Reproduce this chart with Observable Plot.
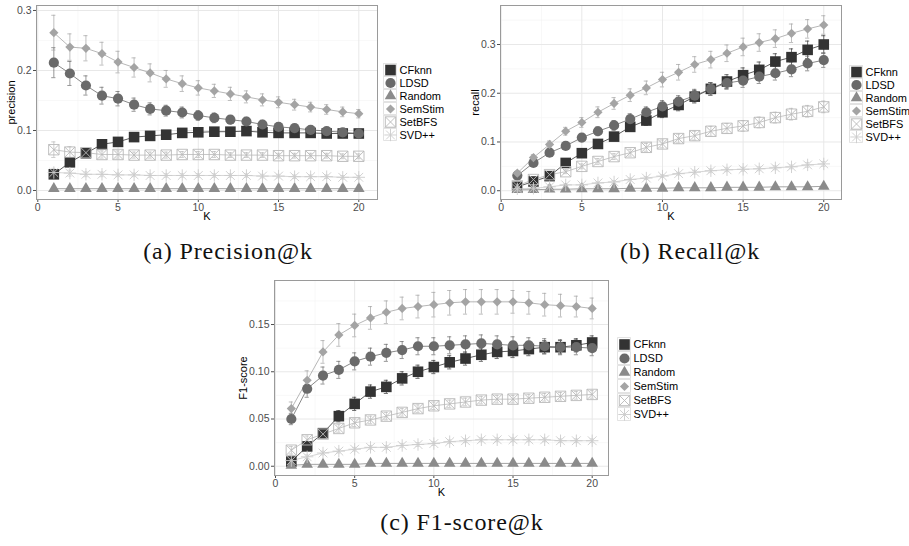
<!DOCTYPE html>
<html><head><meta charset="utf-8">
<script src="https://cdn.jsdelivr.net/npm/d3@7"></script>
<script src="https://cdn.jsdelivr.net/npm/@observablehq/plot@0.6"></script>
<style>
body{margin:0;background:#fff;}
#root{position:relative;width:909px;height:546px;overflow:hidden;background:#fff;}
.box{position:absolute;}
.cap{position:absolute;font-family:"Liberation Serif","Times New Roman",serif;font-size:24px;line-height:1;letter-spacing:0.9px;color:#111;white-space:nowrap;transform:translateX(-50%);}
</style></head><body><div id="root"></div>
<script>
// ---------------- data ----------------
const K = [1,2,3,4,5,6,7,8,9,10,11,12,13,14,15,16,17,18,19,20];
const seriesNames = ["CFknn","LDSD","Random","SemStim","SetBFS","SVD++"];
const xTicks = [0,5,10,15,20];
const xMinorTicks = [2.5,7.5,12.5,17.5];

// Precision@k
const precisionCFknn   = [0.027,0.047,0.062,0.077,0.081,0.089,0.091,0.093,0.096,0.097,0.098,0.098,0.099,0.097,0.096,0.096,0.096,0.095,0.095,0.095];
const precisionLDSD    = [0.213,0.195,0.175,0.158,0.153,0.143,0.136,0.133,0.130,0.125,0.121,0.118,0.115,0.110,0.106,0.104,0.101,0.099,0.097,0.095];
const precisionRandom  = [0.003,0.003,0.003,0.003,0.003,0.003,0.003,0.003,0.003,0.003,0.003,0.003,0.003,0.003,0.003,0.003,0.003,0.003,0.003,0.003];
const precisionSemStim = [0.263,0.239,0.237,0.228,0.214,0.205,0.196,0.186,0.178,0.171,0.166,0.161,0.156,0.151,0.147,0.143,0.139,0.135,0.131,0.128];
const precisionSetBFS  = [0.068,0.064,0.063,0.060,0.060,0.059,0.059,0.059,0.060,0.060,0.060,0.059,0.059,0.059,0.058,0.058,0.058,0.058,0.057,0.057];
const precisionSVD     = [0.030,0.029,0.027,0.027,0.026,0.026,0.025,0.025,0.025,0.025,0.025,0.025,0.025,0.024,0.024,0.023,0.023,0.023,0.022,0.022];
const precisionErrCFknn   = [0.005,0.005,0.005,0.005,0.005,0.005,0.005,0.005,0.005,0.005,0.005,0.005,0.005,0.005,0.005,0.005,0.005,0.005,0.005,0.005];
const precisionErrLDSD    = [0.025,0.020,0.016,0.014,0.012,0.011,0.010,0.009,0.009,0.008,0.008,0.007,0.007,0.007,0.006,0.006,0.006,0.005,0.005,0.005];
const precisionErrRandom  = [0.001,0.001,0.001,0.001,0.001,0.001,0.001,0.001,0.001,0.001,0.001,0.001,0.001,0.001,0.001,0.001,0.001,0.001,0.001,0.001];
const precisionErrSemStim = [0.029,0.022,0.021,0.019,0.018,0.016,0.015,0.014,0.013,0.012,0.011,0.011,0.010,0.010,0.009,0.009,0.008,0.008,0.008,0.007];
const precisionErrSetBFS  = [0.013,0.009,0.007,0.006,0.006,0.005,0.005,0.005,0.005,0.005,0.005,0.004,0.004,0.004,0.004,0.004,0.004,0.004,0.004,0.004];
const precisionErrSVD     = [0.007,0.005,0.004,0.004,0.003,0.003,0.003,0.003,0.003,0.003,0.003,0.003,0.003,0.003,0.003,0.003,0.003,0.003,0.003,0.003];

// Recall@k
const recallCFknn   = [0.008,0.019,0.030,0.057,0.077,0.096,0.111,0.131,0.144,0.161,0.176,0.193,0.209,0.224,0.237,0.248,0.265,0.274,0.289,0.300];
const recallLDSD    = [0.031,0.057,0.078,0.092,0.109,0.122,0.134,0.147,0.161,0.173,0.183,0.195,0.209,0.221,0.226,0.234,0.241,0.249,0.261,0.268];
const recallRandom  = [0.002,0.002,0.003,0.003,0.004,0.004,0.004,0.005,0.005,0.005,0.006,0.006,0.006,0.007,0.007,0.007,0.008,0.008,0.008,0.009];
const recallSemStim = [0.036,0.068,0.095,0.122,0.140,0.161,0.179,0.196,0.211,0.228,0.243,0.259,0.269,0.282,0.295,0.304,0.312,0.323,0.332,0.340];
const recallSetBFS  = [0.010,0.023,0.033,0.039,0.050,0.060,0.070,0.078,0.089,0.096,0.107,0.113,0.122,0.128,0.133,0.140,0.150,0.157,0.163,0.172];
const recallSVD     = [0.004,0.005,0.008,0.012,0.012,0.016,0.018,0.023,0.026,0.030,0.035,0.038,0.041,0.043,0.044,0.045,0.047,0.049,0.053,0.055];
const recallErrCFknn   = [0.002,0.003,0.004,0.005,0.006,0.007,0.008,0.009,0.010,0.011,0.012,0.013,0.013,0.014,0.015,0.016,0.016,0.017,0.018,0.018];
const recallErrLDSD    = [0.004,0.005,0.006,0.007,0.008,0.009,0.010,0.011,0.011,0.012,0.012,0.013,0.013,0.013,0.014,0.014,0.014,0.015,0.015,0.015];
const recallErrRandom  = [0.001,0.001,0.001,0.001,0.001,0.001,0.001,0.001,0.001,0.001,0.001,0.001,0.001,0.001,0.001,0.001,0.001,0.001,0.001,0.001];
const recallErrSemStim = [0.004,0.006,0.007,0.008,0.010,0.011,0.012,0.013,0.014,0.015,0.016,0.016,0.017,0.017,0.018,0.018,0.018,0.019,0.019,0.019];
const recallErrSetBFS  = [0.002,0.003,0.004,0.004,0.005,0.006,0.006,0.007,0.008,0.008,0.009,0.009,0.010,0.010,0.011,0.011,0.011,0.012,0.012,0.012];
const recallErrSVD     = [0.001,0.001,0.002,0.002,0.002,0.002,0.003,0.003,0.003,0.003,0.003,0.004,0.004,0.004,0.004,0.004,0.004,0.004,0.005,0.005];

// F1-score@k
const f1CFknn   = [0.005,0.021,0.035,0.053,0.066,0.079,0.084,0.093,0.100,0.105,0.110,0.114,0.118,0.121,0.122,0.124,0.126,0.126,0.128,0.131];
const f1LDSD    = [0.050,0.082,0.096,0.102,0.111,0.116,0.120,0.123,0.127,0.127,0.128,0.129,0.130,0.129,0.128,0.128,0.127,0.126,0.126,0.125];
const f1Random  = [0.001,0.002,0.002,0.002,0.002,0.003,0.003,0.003,0.003,0.003,0.003,0.003,0.003,0.003,0.003,0.003,0.003,0.003,0.003,0.003];
const f1SemStim = [0.061,0.091,0.121,0.139,0.149,0.157,0.163,0.167,0.169,0.171,0.173,0.174,0.174,0.174,0.174,0.173,0.171,0.170,0.169,0.167];
const f1SetBFS  = [0.017,0.028,0.034,0.040,0.046,0.049,0.053,0.057,0.061,0.064,0.066,0.068,0.070,0.071,0.071,0.072,0.073,0.074,0.075,0.076];
const f1SVD     = [0.006,0.010,0.014,0.016,0.018,0.020,0.020,0.022,0.023,0.024,0.026,0.027,0.028,0.028,0.028,0.028,0.028,0.027,0.027,0.027];
const f1ErrCFknn   = [0.003,0.004,0.004,0.006,0.007,0.007,0.007,0.007,0.007,0.007,0.007,0.007,0.007,0.007,0.007,0.007,0.007,0.007,0.007,0.007];
const f1ErrLDSD    = [0.006,0.009,0.009,0.009,0.009,0.009,0.009,0.009,0.009,0.009,0.009,0.009,0.009,0.009,0.009,0.008,0.008,0.008,0.008,0.008];
const f1ErrRandom  = [0.001,0.001,0.001,0.001,0.001,0.001,0.001,0.001,0.001,0.001,0.001,0.001,0.001,0.001,0.001,0.001,0.001,0.001,0.001,0.001];
const f1ErrSemStim = [0.007,0.010,0.012,0.012,0.012,0.012,0.012,0.012,0.012,0.013,0.013,0.013,0.013,0.013,0.012,0.012,0.012,0.012,0.011,0.011];
const f1ErrSetBFS  = [0.004,0.004,0.004,0.004,0.004,0.004,0.004,0.004,0.004,0.004,0.004,0.004,0.004,0.004,0.004,0.004,0.004,0.004,0.004,0.004];
const f1ErrSVD     = [0.002,0.002,0.002,0.002,0.002,0.002,0.002,0.002,0.002,0.002,0.002,0.002,0.002,0.002,0.002,0.002,0.002,0.002,0.002,0.002];

const precisionTicks = [0,0.1,0.2,0.3];
const recallTicks = [0,0.1,0.2,0.3];
const f1Ticks = [0,0.05,0.10,0.15];

// ---------------- styles ----------------
const colors = {"CFknn":"#333333","LDSD":"#6a6a6a","Random":"#8b8b8b","SemStim":"#a4a4a4","SetBFS":"#b9b9b9","SVD++":"#cccccc"};
const rad = r => Math.sqrt(r / Math.PI);
const symbols = {
  square:   {draw(c,s){const r=rad(s); c.rect(-r,-r,2*r,2*r);}},
  circle:   {draw(c,s){const r=rad(s); c.moveTo(r,0); c.arc(0,0,r,0,2*Math.PI);}},
  triangle: {draw(c,s){const r=rad(s), h=r*Math.sqrt(3); c.moveTo(0,-h*2/3); c.lineTo(r,h/3); c.lineTo(-r,h/3); c.closePath();}},
  diamond:  {draw(c,s){const r=rad(s); c.moveTo(0,-r); c.lineTo(r,0); c.lineTo(0,r); c.lineTo(-r,0); c.closePath();}},
  squareX:  {draw(c,s){const r=rad(s); c.rect(-r,-r,2*r,2*r); c.moveTo(-r,-r); c.lineTo(r,r); c.moveTo(r,-r); c.lineTo(-r,r);}},
  asterisk: {draw(c,s){const r=rad(s), d=r*0.7071; c.moveTo(-r,0); c.lineTo(r,0); c.moveTo(0,-r); c.lineTo(0,r); c.moveTo(-d,-d); c.lineTo(d,d); c.moveTo(d,-d); c.lineTo(-d,d);}}
};
const shapeStyle = {
  "CFknn":  {symbol: symbols.square,   r: 5.3, filled: true},
  "LDSD":   {symbol: symbols.circle,   r: 5.1, filled: true},
  "Random": {symbol: symbols.triangle, r: 5.8, filled: true},
  "SemStim":{symbol: symbols.diamond,  r: 4.6, filled: true},
  "SetBFS": {symbol: symbols.squareX,  r: 5.2, filled: false},
  "SVD++":  {symbol: symbols.asterisk, r: 6.2, filled: false}
};
const font = '"Liberation Sans", Arial, Helvetica, sans-serif';

function dotMark(data, name, opts) {
  const st = shapeStyle[name];
  return Plot.dot(data, {
    ...opts, symbol: st.symbol, r: st.r,
    fill: st.filled ? colors[name] : "none",
    stroke: st.filled ? "none" : colors[name],
    strokeWidth: st.filled ? 0 : 0.9
  });
}

function panel(cfg) {
  const rowsBy = {};
  seriesNames.forEach((n, i) => {
    rowsBy[n] = K.map((k, j) => ({k, v: cfg.values[i][j], e: cfg.errors[i][j]}));
  });
  const cap = 0.13;
  const marks = [
    Plot.ruleX(xMinorTicks, {stroke: "#f3f3f3", strokeWidth: 0.6}),
    Plot.ruleY(cfg.yMinor, {stroke: "#f3f3f3", strokeWidth: 0.6}),
    Plot.ruleX(xTicks, {stroke: "#e8e8e8", strokeWidth: 1}),
    Plot.ruleY(cfg.yTicks, {stroke: "#e8e8e8", strokeWidth: 1})
  ];
  seriesNames.forEach(n => marks.push(Plot.line(rowsBy[n], {x: "k", y: "v", stroke: colors[n], strokeWidth: 0.8})));
  seriesNames.forEach(n => {
    const rows = rowsBy[n];
    marks.push(Plot.ruleX(rows, {x: "k", y1: d => d.v - d.e, y2: d => d.v + d.e, stroke: colors[n], strokeWidth: 0.7}));
    marks.push(Plot.ruleY(rows, {y: d => d.v + d.e, x1: d => d.k - cap, x2: d => d.k + cap, stroke: colors[n], strokeWidth: 0.7}));
    marks.push(Plot.ruleY(rows, {y: d => d.v - d.e, x1: d => d.k - cap, x2: d => d.k + cap, stroke: colors[n], strokeWidth: 0.7}));
  });
  seriesNames.forEach(n => marks.push(dotMark(rowsBy[n], n, {x: "k", y: "v"})));
  marks.push(Plot.frame({stroke: "#9a9a9a", strokeWidth: 1}));
  marks.push(Plot.text(["K"], {frameAnchor: "bottom", dy: 16.5, lineAnchor: "middle", textAnchor: "middle", text: d => d, fill: "#000", fontSize: 11}));
  marks.push(Plot.text([cfg.ylabel], {frameAnchor: "left", dx: cfg.ylabelDx, lineAnchor: "middle", textAnchor: "middle", rotate: -90, text: d => d, fill: "#000", fontSize: 11}));
  return Plot.plot({
    width: cfg.width, height: cfg.height,
    marginLeft: cfg.ml, marginRight: cfg.mr, marginTop: cfg.mt, marginBottom: cfg.mb,
    style: {fontFamily: font, fontSize: "10.5px", color: "#4d4d4d", background: "transparent", overflow: "visible"},
    x: {domain: cfg.xDomain, ticks: xTicks, tickSize: 3, tickPadding: 1, label: null, tickFormat: d3.format("d")},
    y: {domain: cfg.yDomain, ticks: cfg.yTicks, tickSize: 3, tickPadding: 2, label: null, tickFormat: d3.format(cfg.fmt)},
    marks
  });
}

function legend(pitch, width) {
  const marks = [
    Plot.cell(seriesNames, {x: () => "key", y: d => d, fill: "#fff", stroke: "#dcdcdc", strokeWidth: 0.8, inset: 0.6})
  ];
  seriesNames.forEach(n => marks.push(dotMark([n], n, {x: () => "key", y: d => d})));
  marks.push(Plot.text(seriesNames, {x: () => "key", y: d => d, text: d => d, textAnchor: "start", dx: 9, fill: "#000", fontSize: 11}));
  return Plot.plot({
    width: width, height: pitch * seriesNames.length,
    marginLeft: 0, marginTop: 0, marginBottom: 0, marginRight: width - 14,
    style: {fontFamily: font, background: "transparent", overflow: "visible"},
    x: {type: "band", domain: ["key"], axis: null, padding: 0},
    y: {type: "band", domain: seriesNames, axis: null, padding: 0},
    marks
  });
}

const root = document.getElementById("root");
function place(el, left, top) {
  const d = document.createElement("div");
  d.className = "box"; d.style.left = left + "px"; d.style.top = top + "px";
  d.appendChild(el); root.appendChild(d);
}
function caption(text, cx, top) {
  const d = document.createElement("div");
  d.className = "cap"; d.style.left = cx + "px"; d.style.top = top + "px";
  d.textContent = text; root.appendChild(d);
}

place(panel({
  values: [precisionCFknn, precisionLDSD, precisionRandom, precisionSemStim, precisionSetBFS, precisionSVD],
  errors: [precisionErrCFknn, precisionErrLDSD, precisionErrRandom, precisionErrSemStim, precisionErrSetBFS, precisionErrSVD],
  yTicks: precisionTicks, yMinor: [0.05,0.15,0.25], fmt: ".1f", ylabel: "precision", ylabelDx: -25,
  width: 380, height: 225, ml: 36, mr: 3, mt: 5, mb: 26,
  xDomain: [-0.08, 21.165], yDomain: [-0.015, 0.3083]
}), 0, 0);
place(legend(13.6, 75), 383, 61.2);

place(panel({
  values: [recallCFknn, recallLDSD, recallRandom, recallSemStim, recallSetBFS, recallSVD],
  errors: [recallErrCFknn, recallErrLDSD, recallErrRandom, recallErrSemStim, recallErrSetBFS, recallErrSVD],
  yTicks: recallTicks, yMinor: [0.05,0.15,0.25,0.35], fmt: ".1f", ylabel: "recall", ylabelDx: -25,
  width: 380, height: 225, ml: 36, mr: 3, mt: 5, mb: 26,
  xDomain: [-0.043, 21.10], yDomain: [-0.018, 0.380]
}), 464, 0);
place(legend(13.6, 58), 849, 62.5);

place(panel({
  values: [f1CFknn, f1LDSD, f1Random, f1SemStim, f1SetBFS, f1SVD],
  errors: [f1ErrCFknn, f1ErrLDSD, f1ErrRandom, f1ErrSemStim, f1ErrSetBFS, f1ErrSVD],
  yTicks: f1Ticks, yMinor: [0.025,0.075,0.125,0.175], fmt: ".2f", ylabel: "F1-score", ylabelDx: -31,
  width: 372, height: 225, ml: 36, mr: 2, mt: 5, mb: 25,
  xDomain: [-0.063, 21.03], yDomain: [-0.0098, 0.1966]
}), 238, 275);
place(legend(14, 75), 617, 337);

caption("(a) Precision@k", 228, 239);
caption("(b) Recall@k", 690, 239);
caption("(c) F1-score@k", 462, 510);
</script>
</body></html>
